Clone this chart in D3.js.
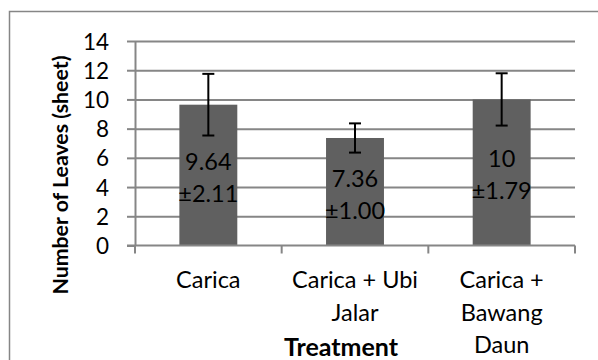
<!DOCTYPE html>
<html><head><meta charset="utf-8">
<script src="https://cdn.jsdelivr.net/npm/d3@7/dist/d3.min.js"></script>
<style>
html,body{margin:0;padding:0;background:#fff;}
svg{display:block;font-family:Lato,"Open Sans",sans-serif;}
</style></head>
<body>
<svg id="chart" width="598" height="360"></svg>
<script>
const categories = ["Carica", "Carica + Ubi Jalar", "Carica + Bawang Daun"];
const categoryLines = [["Carica"], ["Carica + Ubi", "Jalar"], ["Carica +", "Bawang", "Daun"]];
const means = [9.64, 7.36, 10];
const errors = [2.11, 1.00, 1.79];
const valueLabels = ["9.64", "7.36", "10"];
const errorLabels = ["±2.11", "±1.00", "±1.79"];
const yTicks = [0, 2, 4, 6, 8, 10, 12, 14];
const yTitle = "Number of Leaves (sheet)";
const xTitle = "Treatment";

const svg = d3.select("#chart");
const gridColor = "#868686";
const barColor = "#606060";

// outer chart border
svg.append("rect").attr("x", 9.5).attr("y", 11.5).attr("width", 620).attr("height", 380)
  .attr("fill", "none").attr("stroke", gridColor).attr("stroke-width", 1.5);

const pLeft = 135, pRight = 575, pTop = 41, pBottom = 245.5;
const y = d3.scaleLinear().domain([0, 14]).range([pBottom, pTop]);
const x = d3.scaleBand().domain(categories).range([pLeft, pRight]).paddingInner(0.605).paddingOuter(0.3025);

// gridlines
const grid = svg.append("g").attr("transform", `translate(${pLeft},0)`)
  .call(d3.axisLeft(y).tickValues(yTicks.filter(v => v > 0)).tickSize(-(pRight - pLeft)).tickFormat(""));
grid.select(".domain").remove();
grid.selectAll("line").attr("stroke", gridColor).attr("stroke-width", 2);

// y axis
const yAxis = svg.append("g").attr("transform", `translate(${pLeft},0)`)
  .call(d3.axisLeft(y).tickValues(yTicks).tickSize(8).tickSizeOuter(0).tickPadding(18));
yAxis.select(".domain").attr("stroke", gridColor).attr("stroke-width", 2);
yAxis.selectAll(".tick line").attr("stroke", gridColor).attr("stroke-width", 2);
yAxis.selectAll(".tick text").attr("font-size", 22.5).attr("fill", "#000")
  .attr("font-family", "Lato, sans-serif").attr("dy", "0.36em");

// bars
svg.append("g").selectAll("rect").data(categories).join("rect")
  .attr("x", d => x(d)).attr("width", x.bandwidth())
  .attr("y", (d, i) => y(means[i])).attr("height", (d, i) => y(0) - y(means[i]))
  .attr("fill", barColor);

// x axis
const step = x.step();
const boundaries = [0, 1, 2, 3].map(i => pLeft + i * step);
const xAxis = svg.append("g");
xAxis.append("line").attr("x1", pLeft - 8).attr("x2", pRight).attr("y1", y(0)).attr("y2", y(0))
  .attr("stroke", gridColor).attr("stroke-width", 2);
xAxis.selectAll("line.tk").data(boundaries).join("line").attr("class", "tk")
  .attr("x1", d => d).attr("x2", d => d).attr("y1", y(0)).attr("y2", y(0) + 8)
  .attr("stroke", gridColor).attr("stroke-width", 2);

// error bars
const eb = svg.append("g").attr("stroke", "#000").attr("stroke-width", 2);
categories.forEach((c, i) => {
  const cx = x(c) + x.bandwidth() / 2;
  const y1 = y(means[i] + errors[i]), y2 = y(means[i] - errors[i]);
  eb.append("line").attr("x1", cx).attr("x2", cx).attr("y1", y1).attr("y2", y2);
  eb.append("line").attr("x1", cx - 6).attr("x2", cx + 6).attr("y1", y1).attr("y2", y1);
  eb.append("line").attr("x1", cx - 6).attr("x2", cx + 6).attr("y1", y2).attr("y2", y2);
});

// data labels
categories.forEach((c, i) => {
  const cx = x(c) + x.bandwidth() / 2;
  const mid = (y(means[i]) + y(0)) / 2 + 2.5;
  const t = svg.append("text").attr("text-anchor", "middle").attr("font-size", 23.5).attr("fill", "#000");
  t.append("tspan").attr("x", cx).attr("y", mid - 16).attr("dy", "0.36em").text(valueLabels[i]);
  t.append("tspan").attr("x", cx).attr("y", mid + 16).attr("dy", "0.36em").text(errorLabels[i]);
});

// category labels
categories.forEach((c, i) => {
  const cx = x(c) + x.bandwidth() / 2;
  const t = svg.append("text").attr("text-anchor", "middle").attr("font-size", 23.5).attr("fill", "#000");
  categoryLines[i].forEach((ln, j) => {
    t.append("tspan").attr("x", cx).attr("y", 280 + j * 32.5).attr("dy", "0.36em").text(ln);
  });
});

// axis titles
svg.append("text").attr("transform", "translate(60,175) rotate(-90)")
  .attr("text-anchor", "middle").attr("dy", "0.36em").attr("font-size", 21.3).attr("font-weight", "bold")
  .attr("fill", "#000").text(yTitle);
svg.append("text").attr("x", 341).attr("y", 347).attr("dy", "0.36em")
  .attr("text-anchor", "middle").attr("font-size", 25).attr("font-weight", "bold")
  .attr("fill", "#000").text(xTitle);
</script>
</body></html>
